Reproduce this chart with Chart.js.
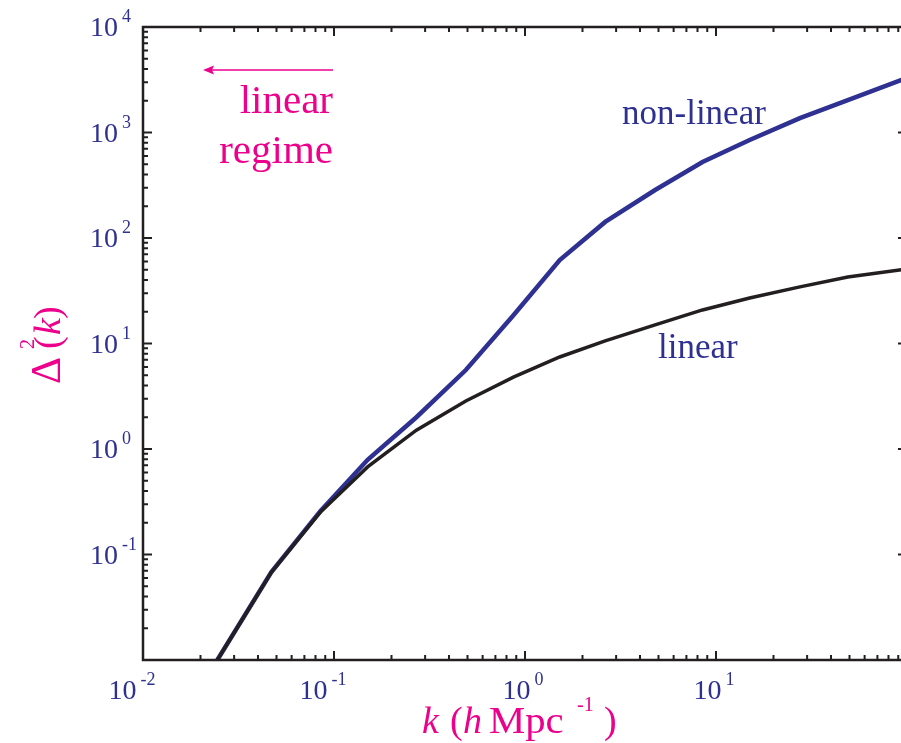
<!DOCTYPE html>
<html>
<head>
<meta charset="utf-8">
<script src="https://cdn.jsdelivr.net/npm/chart.js@4.4.1/dist/chart.umd.min.js"></script>
<style>
  html, body { margin: 0; padding: 0; overflow: hidden; background: #fff; }
  canvas { display: block; }
</style>
</head>
<body>
<canvas id="powerChart" width="910" height="743"></canvas>
<script>
// wavenumber k (h/Mpc) and dimensionless power for both curves
const kValues = [0.0245, 0.047, 0.085, 0.15, 0.27, 0.49, 0.87, 1.52, 2.63, 4.8, 8.5, 15, 27.5, 49, 100];
const linearDelta = [0.01, 0.068, 0.253, 0.676, 1.51, 2.85, 4.8, 7.45, 10.6, 15.0, 20.8, 27, 34.4, 42.7, 50.8];
const nonLinearDelta = [0.01, 0.068, 0.258, 0.79, 2.0, 5.6, 18.5, 61.7, 142, 285, 525, 849, 1370, 2030, 3300];

const xExponents = [-2, -1, 0, 1];
const yExponents = [-1, 0, 1, 2, 3, 4];

const BLUE = "#2e3192";
const INK = "#231f20";
const PINK = "#ec008c";
const SERIF = "'Liberation Serif', 'DejaVu Serif', serif";

function toPoints(ys) {
  return kValues.map((k, i) => ({ x: k, y: ys[i] }));
}

// decade + minor tick values between two exponents
function logTicks(fromExp, toExp) {
  const ticks = [];
  for (let e = fromExp; e < toExp; e++) {
    for (let m = 1; m <= 9; m++) {
      ticks.push({ value: m * Math.pow(10, e), major: m === 1 });
    }
  }
  ticks.push({ value: Math.pow(10, toExp), major: true });
  return ticks;
}

function drawPower(ctx, base, exp, x, y, baseSize, expSize, align) {
  ctx.font = baseSize + "px " + SERIF;
  const wBase = ctx.measureText(base).width;
  ctx.font = expSize + "px " + SERIF;
  const wExp = ctx.measureText(exp).width;
  let left = x;
  if (align === "center") {
    left = x - (wBase + 4 + wExp) / 2;
  }
  ctx.textAlign = "left";
  ctx.textBaseline = "alphabetic";
  ctx.font = baseSize + "px " + SERIF;
  ctx.fillText(base, left, y);
  ctx.font = expSize + "px " + SERIF;
  ctx.fillText(exp, left + wBase + 4, y - baseSize * 0.5);
}

const chartOverlay = {
  id: "chartOverlay",
  afterDraw(chart) {
    const { ctx, chartArea: area, scales } = chart;
    const xs = scales.x;
    const ys = scales.y;

    ctx.save();

    // frame
    ctx.strokeStyle = INK;
    ctx.lineWidth = 2.5;
    ctx.strokeRect(area.left, area.top, area.right - area.left, area.bottom - area.top);

    // inward ticks on all four sides
    ctx.lineWidth = 2;
    logTicks(-2, 2).forEach((t) => {
      const px = xs.getPixelForValue(t.value);
      const len = t.major ? 9 : 5;
      ctx.beginPath();
      ctx.moveTo(px, area.bottom);
      ctx.lineTo(px, area.bottom - len);
      ctx.moveTo(px, area.top);
      ctx.lineTo(px, area.top + len);
      ctx.stroke();
    });
    logTicks(-2, 4).forEach((t) => {
      const py = ys.getPixelForValue(t.value);
      const len = t.major ? 9 : 5;
      ctx.beginPath();
      ctx.moveTo(area.left, py);
      ctx.lineTo(area.left + len, py);
      ctx.moveTo(area.right, py);
      ctx.lineTo(area.right - len, py);
      ctx.stroke();
    });

    // tick labels
    ctx.fillStyle = BLUE;
    yExponents.forEach((e) => {
      const py = ys.getPixelForValue(Math.pow(10, e));
      drawPower(ctx, "10", String(e), 90, py + 9, 28, 18, "left");
    });
    xExponents.forEach((e) => {
      const px = xs.getPixelForValue(Math.pow(10, e));
      const shift = e < 0 ? 11 : 2;
      drawPower(ctx, "10", String(e), px - shift, 699, 28, 18, "center");
    });

    // x axis title: k (h Mpc^-1)
    ctx.fillStyle = PINK;
    ctx.textAlign = "left";
    ctx.textBaseline = "alphabetic";
    ctx.font = "italic 38px " + SERIF;
    ctx.fillText("k", 422, 733);
    ctx.font = "38px " + SERIF;
    ctx.fillText("(", 450, 733);
    ctx.font = "italic 38px " + SERIF;
    ctx.fillText("h", 463, 733);
    ctx.save();
    ctx.translate(489, 733);
    ctx.scale(1.07, 1);
    ctx.font = "38px " + SERIF;
    ctx.fillText("Mpc", 0, 0);
    ctx.restore();
    ctx.font = "20px " + SERIF;
    ctx.fillText("-1", 577, 711);
    ctx.font = "38px " + SERIF;
    ctx.fillText(")", 604, 733);

    // y axis title: Δ^2(k), rotated
    ctx.save();
    ctx.translate(60, 383);
    ctx.rotate(-Math.PI / 2);
    ctx.font = "42px " + SERIF;
    ctx.fillText("Δ", -1, 0);
    ctx.font = "20px " + SERIF;
    ctx.fillText("2", 34, -26);
    ctx.font = "38px " + SERIF;
    ctx.fillText("(", 34, 0);
    ctx.font = "italic 38px " + SERIF;
    ctx.fillText("k", 48, 0);
    ctx.font = "38px " + SERIF;
    ctx.fillText(")", 64, 0);
    ctx.restore();

    // "linear regime" note with arrow
    ctx.font = "41px " + SERIF;
    ctx.textAlign = "right";
    ctx.fillText("linear", 333, 113);
    ctx.fillText("regime", 333, 163);
    ctx.strokeStyle = PINK;
    ctx.lineWidth = 1.5;
    ctx.beginPath();
    ctx.moveTo(333, 70);
    ctx.lineTo(210, 70);
    ctx.stroke();
    ctx.fillStyle = PINK;
    ctx.beginPath();
    ctx.moveTo(203, 70);
    ctx.lineTo(214, 65.5);
    ctx.lineTo(212, 70);
    ctx.lineTo(214, 74.5);
    ctx.closePath();
    ctx.fill();

    // curve labels
    ctx.fillStyle = BLUE;
    ctx.textAlign = "left";
    ctx.font = "35px " + SERIF;
    ctx.fillText("non-linear", 622, 124);
    ctx.fillText("linear", 658, 358);

    ctx.restore();
  }
};

new Chart(document.getElementById("powerChart"), {
  type: "line",
  data: {
    datasets: [
      {
        label: "linear",
        data: toPoints(linearDelta),
        borderColor: INK,
        borderWidth: 3.5,
        pointRadius: 0,
        tension: 0,
        fill: false
      },
      {
        label: "non-linear",
        data: toPoints(nonLinearDelta),
        borderColor: BLUE,
        borderWidth: 4.5,
        pointRadius: 0,
        tension: 0,
        fill: false
      }
    ]
  },
  options: {
    responsive: false,
    animation: false,
    layout: {
      padding: { left: 143, top: 27, right: 3, bottom: 83 }
    },
    scales: {
      x: { type: "logarithmic", min: 0.01, max: 100, display: false },
      y: { type: "logarithmic", min: 0.01, max: 10000, display: false }
    },
    plugins: {
      legend: { display: false },
      tooltip: { enabled: false }
    }
  },
  plugins: [chartOverlay]
});
</script>
</body>
</html>
